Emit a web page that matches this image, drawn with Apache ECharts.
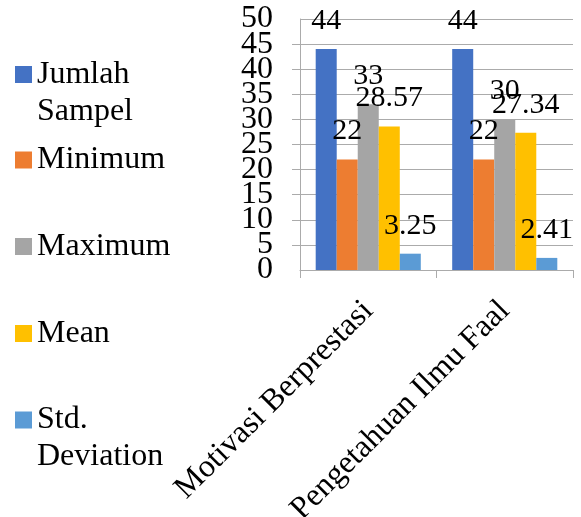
<!DOCTYPE html>
<html>
<head>
<meta charset="utf-8">
<script src="https://cdn.jsdelivr.net/npm/echarts@6/dist/echarts.min.js"></script>
<style>
html,body{margin:0;padding:0;background:#fff;}
#chart{width:581px;height:517px;}
</style>
</head>
<body>
<div id="chart"></div>
<script>
const categories = ['Motivasi Berprestasi', 'Pengetahuan Ilmu Faal'];
const seriesNames = ['Jumlah Sampel', 'Minimum', 'Maximum', 'Mean', 'Std. Deviation'];
const legendLabels = ['Jumlah\nSampel', 'Minimum', 'Maximum', 'Mean', 'Std.\nDeviation'];
const jumlahSampel = [44, 44];
const minimum = [22, 22];
const maximum = [33, 30];
const mean = [28.57, 27.34];
const stdDeviation = [3.25, 2.41];
const yTicks = [0, 5, 10, 15, 20, 25, 30, 35, 40, 45, 50];

const colors = ['#4472C4', '#ED7D31', '#A5A5A5', '#FFC000', '#5B9BD5'];
const values = [jumlahSampel, minimum, maximum, mean, stdDeviation];
const FONT = "'Liberation Serif', 'Times New Roman', serif";
const LINE = '#ABABAB';
const LH = 37;
const iconCenters = [74.5, 160, 246.5, 333.5, 420];
const yMin = yTicks[0];
const yMax = yTicks[yTicks.length - 1];
const yStep = yTicks[1] - yTicks[0];

const legends = seriesNames.map((name, i) => {
  const multi = legendLabels[i].indexOf('\n') >= 0;
  const text = multi ? '\n' + legendLabels[i] : legendLabels[i];
  const lines = text.split('\n').length;
  return {
    orient: 'vertical',
    left: 15,
    top: iconCenters[i] - (lines * LH) / 2,
    padding: 0,
    itemWidth: 17,
    itemHeight: 17,
    icon: 'rect',
    data: [name],
    formatter: () => text,
    textStyle: { fontFamily: FONT, fontSize: 32, color: '#000', lineHeight: LH }
  };
});

const yLabelStyle = { margin: 27, fontFamily: FONT, fontSize: 32, color: '#000', hideOverlap: false };

const chart = echarts.init(document.getElementById('chart'), null, { renderer: 'canvas' });
chart.setOption({
  animation: false,
  backgroundColor: '#fff',
  color: colors,
  legend: legends,
  grid: { left: 300, right: 8, top: 19, bottom: 247, containLabel: false, outerBoundsMode: 'none' },
  xAxis: {
    type: 'category',
    data: categories,
    axisLine: { show: true, lineStyle: { color: LINE, width: 1 } },
    axisTick: { show: true, length: 8, alignWithLabel: false, lineStyle: { color: LINE } },
    axisLabel: { rotate: 45, margin: 36, fontFamily: FONT, fontSize: 32, color: '#000', interval: 0, hideOverlap: false },
    splitLine: { show: false }
  },
  yAxis: [
    {
      type: 'value',
      position: 'left',
      min: yMin, max: yMax, interval: yStep,
      axisLine: { show: true, lineStyle: { color: LINE, width: 1 } },
      axisTick: { show: true, length: 8, inside: false, lineStyle: { color: LINE } },
      axisLabel: Object.assign({}, yLabelStyle, { showMinLabel: false, showMaxLabel: false }),
      splitLine: { show: true, lineStyle: { color: LINE, width: 1 } }
    },
    {
      type: 'value',
      position: 'left',
      offset: 0,
      min: yMin, max: yMax, interval: yStep,
      axisLine: { show: false },
      axisTick: { show: false },
      splitLine: { show: false },
      axisLabel: Object.assign({}, yLabelStyle, {
        showMinLabel: true, showMaxLabel: true,
        formatter: (v) => (v === yMin || v === yMax) ? String(v) : ''
      })
    }
  ],
  series: seriesNames.map((name, i) => ({
    name: name,
    type: 'bar',
    yAxisIndex: 0,
    data: values[i],
    barGap: '0%',
    barCategoryGap: '23%',
    itemStyle: { color: colors[i] },
    label: {
      show: true,
      position: 'top',
      distance: 13,
      fontFamily: FONT,
      fontSize: 30,
      color: '#000'
    }
  }))
});
</script>
</body>
</html>
